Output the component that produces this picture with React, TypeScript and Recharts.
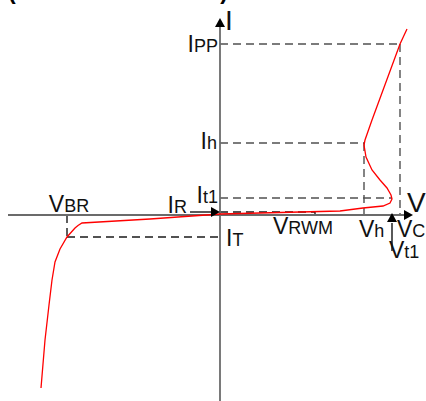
import { LineChart, Line, XAxis, YAxis, ReferenceLine, ReferenceDot } from "recharts";

// I-V curve of the protection diode (V, I in arbitrary units)
const curveV = [18.7, 18.0, 15.2, 14.5, 14.4, 14.6, 15.2, 16.0, 16.7, 17.1, 17.2, 17.0, 16.3, 14.3, 12.0, 8.0, 0, -7, -13.8, -14.2, -14.5, -15.3, -16.0, -16.5, -16.8, -17.1, -17.5, -17.9];
const curveI = [18.6, 17.1, 9.5, 7.5, 7.0, 5.8, 4.5, 3.5, 2.7, 2.0, 1.6, 1.2, 0.9, 0.7, 0.4, 0.3, 0.1, -0.4, -0.8, -1.05, -1.3, -2.2, -3.4, -4.7, -6.5, -9.0, -12.5, -17.3];

// characteristic voltages: V_BR, V_RWM, V_h, V_t1, V_C
const vSubs = ["BR", "RWM", "h", "t1", "C"];
const vValues = [-15.3, 9.5, 14.4, 17.2, 18.0];
// characteristic currents: I_PP, I_h, I_t1, I_R, I_T
const iSubs = ["PP", "h", "t1", "R", "T"];
const iValues = [17.1, 7.2, 1.7, 0.3, -2.2];

// axis extents
const vAxis = [-21.2, 19.3];
const iAxis = [-18.6, 19.7];

const [VBR, VRWM, VH, VT1, VC] = vValues;
const [IPP, IH, IT1, IR, IT] = iValues;

const data = curveV.map((v, k) => ({ v, i: curveI[k] }));

const font = "'Liberation Sans', Arial, sans-serif";
const dashColor = "#505050";

function labelShape(main: string, sub: string, dx: number, dy: number, anchor = "start", size = 23) {
  return (p: any) => (
    <text x={p.cx + dx} y={p.cy + dy} textAnchor={anchor} fontFamily={font} fill="#111">
      <tspan fontSize={size}>{main}</tspan>
      {sub ? <tspan fontSize={18}>{sub}</tspan> : null}
    </text>
  );
}

function arrowUp(p: any) {
  return <polygon points={`${p.cx},${p.cy} ${p.cx - 5},${p.cy + 9} ${p.cx + 5},${p.cy + 9}`} fill="#000" />;
}
function arrowRight(p: any) {
  return <polygon points={`${p.cx},${p.cy} ${p.cx - 9},${p.cy - 5} ${p.cx - 9},${p.cy + 5}`} fill="#000" />;
}

export default function App() {
  const dashed = (x1: number, y1: number, x2: number, y2: number, color = dashColor) => (
    <ReferenceLine
      segment={[{ x: x1, y: y1 }, { x: x2, y: y2 }]}
      stroke={color}
      strokeWidth={1.4}
      strokeDasharray="8 5"
    />
  );

  return (
    <div style={{ position: "absolute", left: 0, top: 0, width: 426, height: 401 }}>
      <LineChart width={426} height={401} data={data} margin={{ top: 0, right: 0, bottom: 0, left: 0 }}>
        <XAxis type="number" dataKey="v" domain={[-22, 20.6]} hide allowDataOverflow />
        <YAxis type="number" domain={[-18.6, 21.5]} hide allowDataOverflow />

        {/* cut-off title at the top edge */}
        <ReferenceDot
          x={-22}
          y={21.5}
          r={0}
          shape={(p: any) => (
            <text x={p.cx + 8} y={p.cy - 1} fontFamily={font} fontWeight="bold" fontSize={23} fill="#000">
              (Unidirectional TVS)
            </text>
          )}
        />

        {/* guide lines */}
        {dashed(0, IPP, VC, IPP)}
        {dashed(VC, IPP, VC, 0)}
        {dashed(0, IH, VH, IH)}
        {dashed(VH, IH, VH, 0)}
        {dashed(0, IT1, VT1, IT1)}
        {dashed(0, IR, VRWM, IR, "#1a1a1a")}
        {dashed(VRWM, IR, VRWM, 0, "#1a1a1a")}
        {dashed(VBR, IT, 0, IT, "#1a1a1a")}
        {dashed(VBR, 0, VBR, IT, "#1a1a1a")}

        {/* axes */}
        <ReferenceLine segment={[{ x: vAxis[0], y: 0 }, { x: vAxis[1] - 0.8, y: 0 }]} stroke="#6b6b6b" strokeWidth={1.8} />
        <ReferenceLine segment={[{ x: 0, y: iAxis[0] }, { x: 0, y: iAxis[1] - 0.8 }]} stroke="#6b6b6b" strokeWidth={1.8} />
        <ReferenceDot x={vAxis[1]} y={0} r={0} shape={arrowRight} />
        <ReferenceDot x={0} y={iAxis[1]} r={0} shape={arrowUp} />

        <Line
          data={data}
          dataKey="i"
          type="linear"
          stroke="#ff0000"
          strokeWidth={1.3}
          dot={false}
          activeDot={false}
          isAnimationActive={false}
        />

        {/* I_R arrow and V_t1 arrow */}
        <ReferenceLine segment={[{ x: -3, y: IR }, { x: -0.8, y: IR }]} stroke="#000" strokeWidth={1.3} />
        <ReferenceDot x={0} y={IR} r={0} shape={arrowRight} />
        <ReferenceLine segment={[{ x: VT1, y: -3.6 }, { x: VT1, y: -0.8 }]} stroke="#000" strokeWidth={1.3} />
        <ReferenceDot x={VT1} y={0.2} r={0} shape={arrowUp} />

        {/* axis titles */}
        <ReferenceDot x={0} y={iAxis[1]} r={0} shape={labelShape("I", "", 5, 12, "start", 28)} />
        <ReferenceDot x={vAxis[1]} y={0} r={0} shape={labelShape("V", "", -6, -3, "start", 28)} />

        {/* current labels */}
        <ReferenceDot x={0} y={IPP} r={0} shape={labelShape("I", iSubs[0], -2, 8, "end")} />
        <ReferenceDot x={0} y={IH} r={0} shape={labelShape("I", iSubs[1], -3, 6, "end")} />
        <ReferenceDot x={0} y={IT1} r={0} shape={labelShape("I", iSubs[2], -2, 5, "end")} />
        <ReferenceDot x={-3} y={IR} r={0} shape={labelShape("I", iSubs[3], -3, 1, "end")} />
        <ReferenceDot x={0} y={IT} r={0} shape={labelShape("I", iSubs[4], 6, 9)} />

        {/* voltage labels */}
        <ReferenceDot x={VBR} y={0} r={0} shape={labelShape("V", vSubs[0], 2, -3, "middle")} />
        <ReferenceDot x={VRWM} y={0} r={0} shape={labelShape("V", vSubs[1], -12, 19, "middle")} />
        <ReferenceDot x={VH} y={0} r={0} shape={labelShape("V", vSubs[2], -5, 22)} />
        <ReferenceDot x={VC} y={0} r={0} shape={labelShape("V", vSubs[4], -3, 22)} />
        <ReferenceDot x={VT1} y={0} r={0} shape={labelShape("V", vSubs[3], -3, 43)} />
      </LineChart>
    </div>
  );
}
